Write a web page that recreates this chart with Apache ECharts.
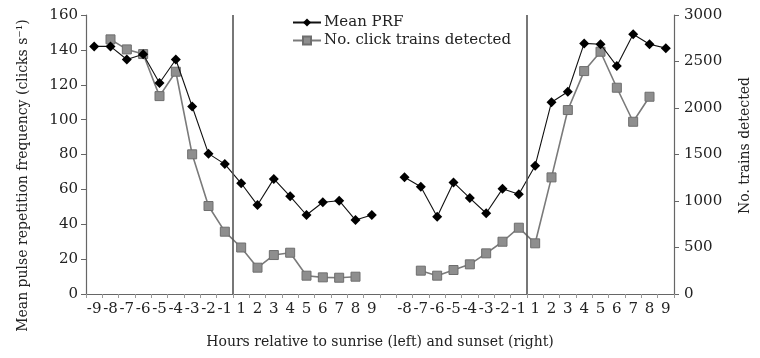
<!DOCTYPE html>
<html>
<head>
<meta charset="utf-8">
<script src="https://cdn.jsdelivr.net/npm/echarts@6/dist/echarts.min.js"></script>
<style>
  html, body { margin: 0; padding: 0; background: #fff; }
  #main { width: 760px; height: 358px; }
</style>
</head>
<body>
<div id="main"></div>
<script>
// hours relative to sunrise (first 18) and sunset (last 18)
var hourLabels = ['-9', '-8', '-7', '-6', '-5', '-4', '-3', '-2', '-1',
  '1', '2', '3', '4', '5', '6', '7', '8', '9',
  '', '-8', '-7', '-6', '-5', '-4', '-3', '-2', '-1',
  '1', '2', '3', '4', '5', '6', '7', '8', '9'];

// mean PRF, clicks per second (left axis)
var meanPrf = [142, 142, 134.5, 137.5, 121, 134.5, 107.5, 80.5, 74.5,
  63.5, 51, 66, 56, 45.3, 52.6, 53.5, 42.4, 45.3,
  null, 67, 61.5, 44.3, 64, 55, 46.3, 60.3, 57.2,
  73.6, 110, 116, 143.7, 143.2, 130.7, 149, 143.2, 141];

// number of click trains detected (right axis)
var clickTrains = [null, 2738, 2630, 2580, 2128, 2390, 1502, 946, 670,
  500, 283, 419, 444, 197, 179, 175, 186, null,
  null, null, 251, 197, 258, 319, 437, 562, 713,
  545, 1254, 1978, 2397, 2605, 2218, 1852, 2121, null];

var prfTicks = [0, 160, 20];
var trainTicks = [0, 3000, 500];
// sunrise / sunset dividers, in category-boundary units
var dividers = [9, 27];

var font = 'DejaVu Serif';
var ink = '#222';
var axisGrey = '#666';

var chart = echarts.init(document.getElementById('main'));
chart.setOption({
  animation: false,
  backgroundColor: '#fff',
  textStyle: { fontFamily: font, color: ink },
  grid: { left: 86, right: 79, top: 15, bottom: 64 },
  legend: {
    orient: 'vertical',
    left: 287,
    top: 10,
    itemWidth: 28,
    itemHeight: 10,
    itemGap: 3,
    data: ['Mean PRF', 'No. click trains detected'],
    textStyle: { fontFamily: font, fontSize: 15, color: ink, padding: [0, 0, 0, -2] }
  },
  xAxis: [{
    type: 'category',
    data: hourLabels,
    boundaryGap: true,
    name: 'Hours relative to sunrise (left) and sunset (right)',
    nameLocation: 'middle',
    nameGap: 41,
    nameTextStyle: { fontFamily: font, fontSize: 14, color: ink },
    axisLine: { lineStyle: { color: axisGrey, width: 1.2 } },
    axisTick: { show: true, length: 4, lineStyle: { color: '#999' } },
    axisLabel: { interval: 0, fontFamily: font, fontSize: 15, color: ink, margin: 8 },
    splitLine: { show: false }
  }, {
    type: 'value',
    min: 0,
    max: 36,
    show: false
  }],
  yAxis: [{
    type: 'value',
    min: prfTicks[0],
    max: prfTicks[1],
    interval: prfTicks[2],
    name: 'Mean pulse repetition frequency (clicks s\u207B\u00B9)',
    nameLocation: 'middle',
    nameGap: 56,
    nameTextStyle: { fontFamily: font, fontSize: 14, color: ink, padding: [0, 42, 0, 0] },
    axisLine: { show: true, lineStyle: { color: axisGrey, width: 1.2 } },
    axisTick: { show: true, length: 5, lineStyle: { color: axisGrey } },
    axisLabel: { fontFamily: font, fontSize: 15, color: ink, margin: 8 },
    splitLine: { show: false }
  }, {
    type: 'value',
    position: 'right',
    min: trainTicks[0],
    max: trainTicks[1],
    interval: trainTicks[2],
    name: 'No. trains detected',
    nameLocation: 'middle',
    nameGap: 64,
    nameTextStyle: { fontFamily: font, fontSize: 14, color: ink, padding: [0, 0, 0, 18] },
    axisLine: { show: true, lineStyle: { color: axisGrey, width: 1.2 } },
    axisTick: { show: true, length: 5, lineStyle: { color: axisGrey } },
    axisLabel: {
      fontFamily: font, fontSize: 15, color: ink, margin: 10,
      formatter: function (v) { return String(v); }
    },
    splitLine: { show: false }
  }],
  series: [{
    name: 'No. click trains detected',
    type: 'line',
    yAxisIndex: 1,
    data: clickTrains,
    connectNulls: false,
    symbol: 'rect',
    symbolSize: 9,
    lineStyle: { color: '#7a7a7a', width: 1.6 },
    itemStyle: { color: '#8e8e8e', borderColor: '#6e6e6e', borderWidth: 1 },
    z: 2
  }, {
    name: 'Mean PRF',
    type: 'line',
    yAxisIndex: 0,
    data: meanPrf,
    connectNulls: false,
    symbol: 'diamond',
    symbolSize: 10,
    lineStyle: { color: '#111', width: 1.1 },
    itemStyle: { color: '#000' },
    z: 3
  }, {
    name: 'dividers',
    type: 'line',
    xAxisIndex: 1,
    data: [],
    markLine: {
      silent: true,
      symbol: 'none',
      label: { show: false },
      lineStyle: { color: '#555', width: 1.6, type: 'solid' },
      data: dividers.map(function (d) { return { xAxis: d }; })
    }
  }]
});
</script>
</body>
</html>
